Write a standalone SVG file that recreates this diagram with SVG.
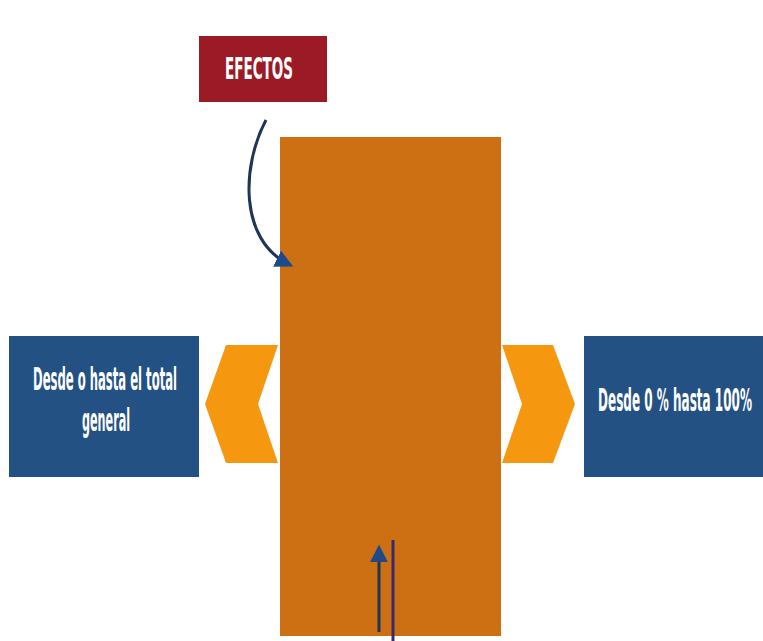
<svg xmlns="http://www.w3.org/2000/svg" width="763" height="641" viewBox="0 0 763 641">
<style>
.lbl{font-family:"DejaVu Sans Condensed","Liberation Sans",sans-serif;font-weight:bold;fill:#ffffff;font-size:14px}
.blue{fill:#235184}
.chev{fill:#f5980f}
.conn{fill:none;stroke:#1e3556;stroke-width:3}
</style>
<defs>
<marker id="ah" viewBox="0 0 10 10" refX="8" refY="5" markerWidth="6" markerHeight="6" orient="auto" markerUnits="strokeWidth">
<path d="M0,0 L10,5 L0,10 z" fill="#1e4a8a"/>
</marker>
</defs>
<rect width="763" height="641" fill="#ffffff"/>
<g id="main">
<rect x="280" y="137" width="221" height="499" fill="#cd6f13"/>
</g>
<g id="efectos">
<rect x="199" y="36" width="128" height="66" fill="#9c1a25"/>
<text class="lbl" transform="translate(259,79) scale(1,2.1)" text-anchor="middle" textLength="68" lengthAdjust="spacingAndGlyphs">EFECTOS</text>
</g>
<g id="left-chevron">
<polygon class="chev" points="205,404 226,345 278,345 258,404 278,463 226,463"/>
</g>
<g id="right-chevron">
<polygon class="chev" points="502,345 553,345 575,404 553,463 502,463 522,404"/>
</g>
<g id="left-box">
<rect class="blue" x="9" y="336" width="190" height="141"/>
<text class="lbl" transform="translate(105,390) scale(1,2.3)" text-anchor="middle" textLength="144" lengthAdjust="spacingAndGlyphs">Desde o hasta el total</text>
<text class="lbl" transform="translate(106,431) scale(1,2.3)" text-anchor="middle" textLength="48" lengthAdjust="spacingAndGlyphs">general</text>
</g>
<g id="right-box">
<rect class="blue" x="584" y="336" width="179" height="141"/>
<text class="lbl" transform="translate(675,411) scale(1,2.3)" text-anchor="middle" textLength="154" lengthAdjust="spacingAndGlyphs">Desde 0 % hasta 100%</text>
</g>
<g id="connectors">
<path class="conn" d="M266,120 C242,165 238,240 290,265" marker-end="url(#ah)"/>
<path class="conn" d="M379,632 L379,548" marker-end="url(#ah)"/>
<path d="M393,540 L393,641" fill="none" stroke="#3b2a6b" stroke-width="3"/>
</g>
</svg>
